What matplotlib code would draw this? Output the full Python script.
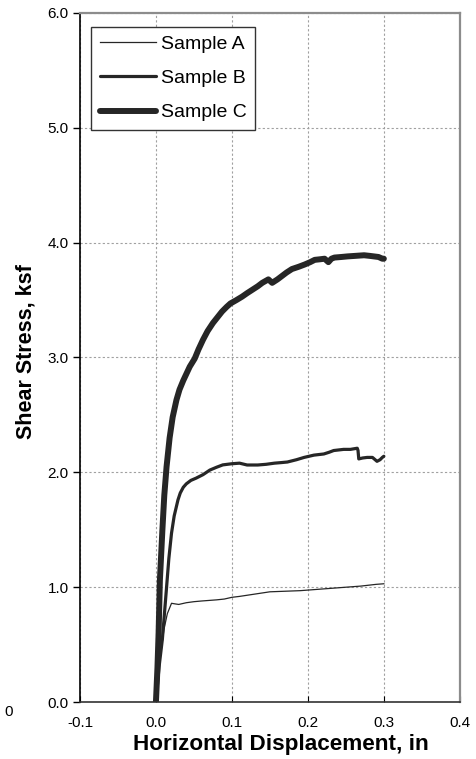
import numpy as np
import matplotlib.pyplot as plt

plt.rcParams['font.family'] = ['Liberation Sans', 'DejaVu Sans']

# direct shear test curves: displacement (in) vs shear stress (ksf)
disp_a = [0.0, 0.004, 0.0105, 0.015, 0.0205, 0.025, 0.03, 0.04, 0.05, 0.06, 0.07, 0.08,
          0.09, 0.1, 0.11, 0.12, 0.13, 0.14, 0.15, 0.17, 0.19, 0.2, 0.22, 0.24, 0.25,
          0.27, 0.29, 0.3]
stress_a = [0.0, 0.3, 0.63, 0.77, 0.86, 0.855, 0.85, 0.865, 0.874, 0.88, 0.885, 0.89,
            0.897, 0.912, 0.92, 0.93, 0.94, 0.95, 0.96, 0.965, 0.97, 0.975, 0.985, 0.995,
            1.0, 1.01, 1.025, 1.03]

disp_b = [0.0, 0.004, 0.0085, 0.014, 0.017, 0.0205, 0.024, 0.029, 0.032, 0.036, 0.04,
          0.046, 0.053, 0.062, 0.071, 0.08, 0.088, 0.1, 0.11, 0.12, 0.134, 0.145, 0.156,
          0.165, 0.173, 0.185, 0.195, 0.208, 0.221, 0.228, 0.234, 0.247, 0.256, 0.265,
          0.266, 0.267, 0.272, 0.278, 0.285, 0.291, 0.295, 0.298, 0.3]
stress_b = [0.0, 0.3, 0.55, 1.0, 1.25, 1.47, 1.62, 1.76, 1.82, 1.87, 1.9, 1.93, 1.95,
            1.98, 2.02, 2.045, 2.065, 2.075, 2.08, 2.064, 2.064, 2.07, 2.08, 2.085, 2.09,
            2.11, 2.13, 2.15, 2.16, 2.175, 2.19, 2.2, 2.2, 2.21, 2.19, 2.117, 2.125, 2.13,
            2.13, 2.096, 2.11, 2.13, 2.14]

disp_c = [0.0, 0.002, 0.0035, 0.0052, 0.0085, 0.011, 0.014, 0.018, 0.022, 0.027, 0.031,
          0.036, 0.0445, 0.051, 0.056, 0.062, 0.068, 0.075, 0.081, 0.087, 0.093, 0.098,
          0.106, 0.1135, 0.12, 0.127, 0.134, 0.14, 0.148, 0.153, 0.16, 0.166, 0.172,
          0.179, 0.188, 0.196, 0.203, 0.209, 0.216, 0.222, 0.227, 0.231, 0.235, 0.244,
          0.252, 0.263, 0.274, 0.281, 0.287, 0.293, 0.298, 0.3]
stress_c = [0.0, 0.3, 0.6, 1.06, 1.5, 1.8, 2.05, 2.3, 2.48, 2.63, 2.72, 2.8, 2.92, 2.99,
            3.07, 3.155, 3.23, 3.3, 3.35, 3.4, 3.44, 3.47, 3.5, 3.53, 3.56, 3.59, 3.62,
            3.65, 3.68, 3.65, 3.68, 3.71, 3.74, 3.77, 3.79, 3.81, 3.83, 3.85, 3.855,
            3.86, 3.83, 3.86, 3.87, 3.875, 3.88, 3.885, 3.89, 3.885, 3.88, 3.875, 3.86,
            3.86]

x_ticks = [-0.1, 0.0, 0.1, 0.2, 0.3, 0.4]
y_ticks = [0.0, 1.0, 2.0, 3.0, 4.0, 5.0, 6.0]

line_color = '#262626'

fig = plt.figure(figsize=(4.76, 7.59), dpi=100)
ax = fig.add_axes([0.168, 0.075, 0.798, 0.908])

ax.plot(disp_a, stress_a, color=line_color, lw=0.9, label='Sample A')
ax.plot(disp_b, stress_b, color=line_color, lw=2.3, label='Sample B',
        solid_capstyle='round', solid_joinstyle='round')
ax.plot(disp_c, stress_c, color=line_color, lw=4.3, label='Sample C',
        solid_capstyle='round', solid_joinstyle='round')

ax.set_xlim(-0.1, 0.4)
ax.set_ylim(0, 6)
ax.set_xticks(x_ticks)
ax.set_yticks(y_ticks)
ax.set_xticklabels([f'{t:.1f}' for t in x_ticks])
ax.set_yticklabels([f'{t:.1f}' for t in y_ticks])
ax.tick_params(axis='y', direction='out', length=5, width=1, labelsize=11, pad=3)
ax.tick_params(axis='x', direction='in', length=4, width=0.8, labelsize=11, pad=10)

ax.grid(True, color='#a0a0a0', lw=0.8, linestyle=(0, (2, 2)))
ax.set_axisbelow(True)

for side in ('top', 'right'):
    ax.spines[side].set_color('#8c8c8c')
    ax.spines[side].set_linewidth(1.6)
ax.spines['left'].set_color('black')
ax.spines['left'].set_linewidth(1.2)
ax.spines['bottom'].set_color('#333333')
ax.spines['bottom'].set_linewidth(1.2)

ax.set_xlabel('Horizontal Displacement, in', fontsize=16.2, fontweight='bold', labelpad=3)
ax.set_ylabel('Shear Stress, ksf', fontsize=15.5, fontweight='bold', labelpad=8)
ax.xaxis.label.set_x(0.528)
ax.yaxis.label.set_y(0.509)

leg = ax.legend(loc='upper left', bbox_to_anchor=(0.029, 0.98), borderaxespad=0,
                fontsize=14, handlelength=2.9, handletextpad=0.25, labelspacing=0.85,
                borderpad=0.45, fancybox=False, framealpha=1, edgecolor='#333333')
leg.get_frame().set_linewidth(1.0)

fig.text(0.01, 0.062, '0', fontsize=11, ha='left', va='center')

fig.savefig('out.png', dpi=100)
